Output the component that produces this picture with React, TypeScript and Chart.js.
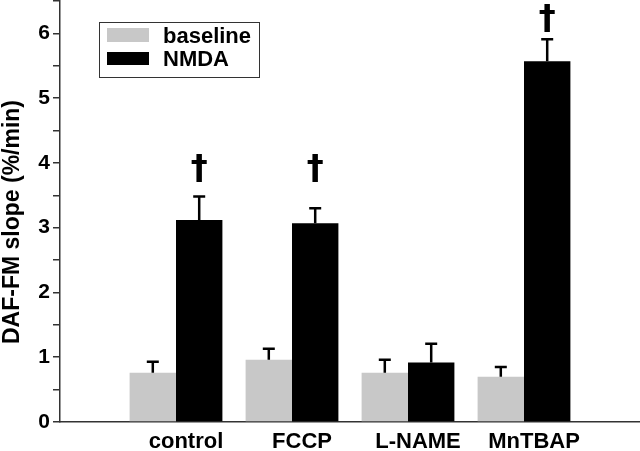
import React, { useEffect, useRef } from "react";
import { Chart, registerables } from "chart.js";

Chart.register(...registerables);

const categories = ["control", "FCCP", "L-NAME", "MnTBAP"];
const baselineValues = [0.76, 0.96, 0.76, 0.7];
const baselineErrors = [0.17, 0.17, 0.2, 0.15];
const nmdaValues = [3.12, 3.07, 0.92, 5.57];
const nmdaErrors = [0.36, 0.23, 0.29, 0.34];
const daggerBottoms = [3.7, 3.7, null, 6.02];
const yTickLabels = ["0", "1", "2", "3", "4", "5", "6"];

const FONT = "'Liberation Sans', Arial, sans-serif";

const pad = (arr: (number | null)[]) => [null, ...arr, null];

const errorBarPlugin = {
  id: "errorBars",
  afterDatasetsDraw(chart: any) {
    const ctx = chart.ctx;
    const yScale = chart.scales.y;
    chart.data.datasets.forEach((ds: any, di: number) => {
      const meta = chart.getDatasetMeta(di);
      const errs = ds.errors as (number | null)[];
      meta.data.forEach((bar: any, i: number) => {
        const v = ds.data[i];
        const e = errs[i];
        if (v == null || e == null) return;
        const yTop = yScale.getPixelForValue(v + e);
        const yBar = yScale.getPixelForValue(v);
        ctx.save();
        ctx.strokeStyle = "#000";
        ctx.lineWidth = 2.5;
        ctx.beginPath();
        ctx.moveTo(bar.x, yBar);
        ctx.lineTo(bar.x, yTop);
        ctx.moveTo(bar.x - 6, yTop);
        ctx.lineTo(bar.x + 6, yTop);
        ctx.stroke();
        ctx.restore();
      });
      const daggers = ds.daggers as (number | null)[] | undefined;
      if (daggers) {
        meta.data.forEach((bar: any, i: number) => {
          const d = daggers[i];
          if (d == null) return;
          const yb = yScale.getPixelForValue(d);
          ctx.save();
          ctx.fillStyle = "#000";
          ctx.font = `bold 34px 'DejaVu Sans', sans-serif`;
          ctx.textAlign = "center";
          const m = ctx.measureText("\u2020");
          ctx.textBaseline = "alphabetic";
          ctx.fillText("\u2020", bar.x, yb - m.actualBoundingBoxDescent);
          ctx.restore();
        });
      }
    });
  },
};

const legendAndTitlePlugin = {
  id: "customLegend",
  afterDraw(chart: any) {
    const ctx = chart.ctx;
    ctx.save();
    ctx.strokeStyle = "#333";
    ctx.lineWidth = 1;
    ctx.strokeRect(99.5, 22.5, 160, 55);
    ctx.fillStyle = "#c8c8c8";
    ctx.fillRect(107, 28, 42, 14);
    ctx.fillStyle = "#000";
    ctx.fillRect(107, 52, 42, 13);
    ctx.font = `bold 22px ${FONT}`;
    ctx.textAlign = "left";
    ctx.textBaseline = "alphabetic";
    ctx.fillText(chart.data.datasets[0].label, 163, 43);
    ctx.fillText(chart.data.datasets[1].label, 163, 66);
    ctx.translate(13, 222);
    ctx.rotate(-Math.PI / 2);
    ctx.textAlign = "center";
    ctx.textBaseline = "middle";
    ctx.font = `bold 23px ${FONT}`;
    ctx.fillText("DAF-FM slope (%/min)", 0, 0);
    ctx.restore();
  },
};

export default function App() {
  const canvasRef = useRef<HTMLCanvasElement | null>(null);

  useEffect(() => {
    document.body.style.margin = "0";
    const canvas = canvasRef.current;
    if (!canvas) return;
    const chart = new Chart(canvas, {
      type: "bar",
      data: {
        labels: ["", ...categories, ""],
        datasets: [
          {
            label: "baseline",
            data: pad(baselineValues),
            backgroundColor: "#c8c8c8",
            borderWidth: 0,
            errors: pad(baselineErrors),
          } as any,
          {
            label: "NMDA",
            data: pad(nmdaValues),
            backgroundColor: "#000",
            borderWidth: 0,
            errors: pad(nmdaErrors),
            daggers: pad(daggerBottoms),
          } as any,
        ],
      },
      options: {
        animation: false,
        responsive: false,
        maintainAspectRatio: false,
        layout: { padding: { top: 1, right: 0, left: 0, bottom: 0 } },
        datasets: {
          bar: { categoryPercentage: 0.8, barPercentage: 1.0 },
        },
        plugins: {
          legend: { display: false },
          tooltip: { enabled: false },
          title: { display: false },
        },
        scales: {
          x: {
            type: "category",
            offset: false,
            grid: { display: false, drawTicks: false },
            border: { display: true, color: "#333", width: 1.5 },
            ticks: {
              color: "#000",
              font: { family: FONT, size: 22, weight: "bold" },
              padding: 7,
              labelOffset: 10,
              maxRotation: 0,
              autoSkip: false,
            },
            afterFit: (s: any) => {
              s.height = 29;
              s.paddingLeft = 0;
              s.paddingRight = 0;
            },
          },
          y: {
            min: 0,
            max: 6.5,
            ticks: {
              stepSize: 0.5,
              color: "#000",
              font: { family: FONT, size: 21, weight: "bold" },
              padding: 3,
              callback: (v: any) => {
                const n = Number(v);
                return Number.isInteger(n) ? yTickLabels[n] ?? "" : "";
              },
            },
            grid: {
              drawOnChartArea: false,
              drawTicks: true,
              tickLength: 7,
              color: "#333",
              lineWidth: 1.5,
            },
            border: { display: true, color: "#333", width: 1.5 },
            afterFit: (s: any) => {
              s.width = 60;
              s.paddingTop = 0;
              s.paddingBottom = 0;
            },
          },
        },
      },
      plugins: [errorBarPlugin, legendAndTitlePlugin],
    } as any);
    return () => chart.destroy();
  }, []);

  return (
    <div style={{ width: 640, height: 451, background: "#fff" }}>
      <canvas ref={canvasRef} width={640} height={451} />
    </div>
  );
}
